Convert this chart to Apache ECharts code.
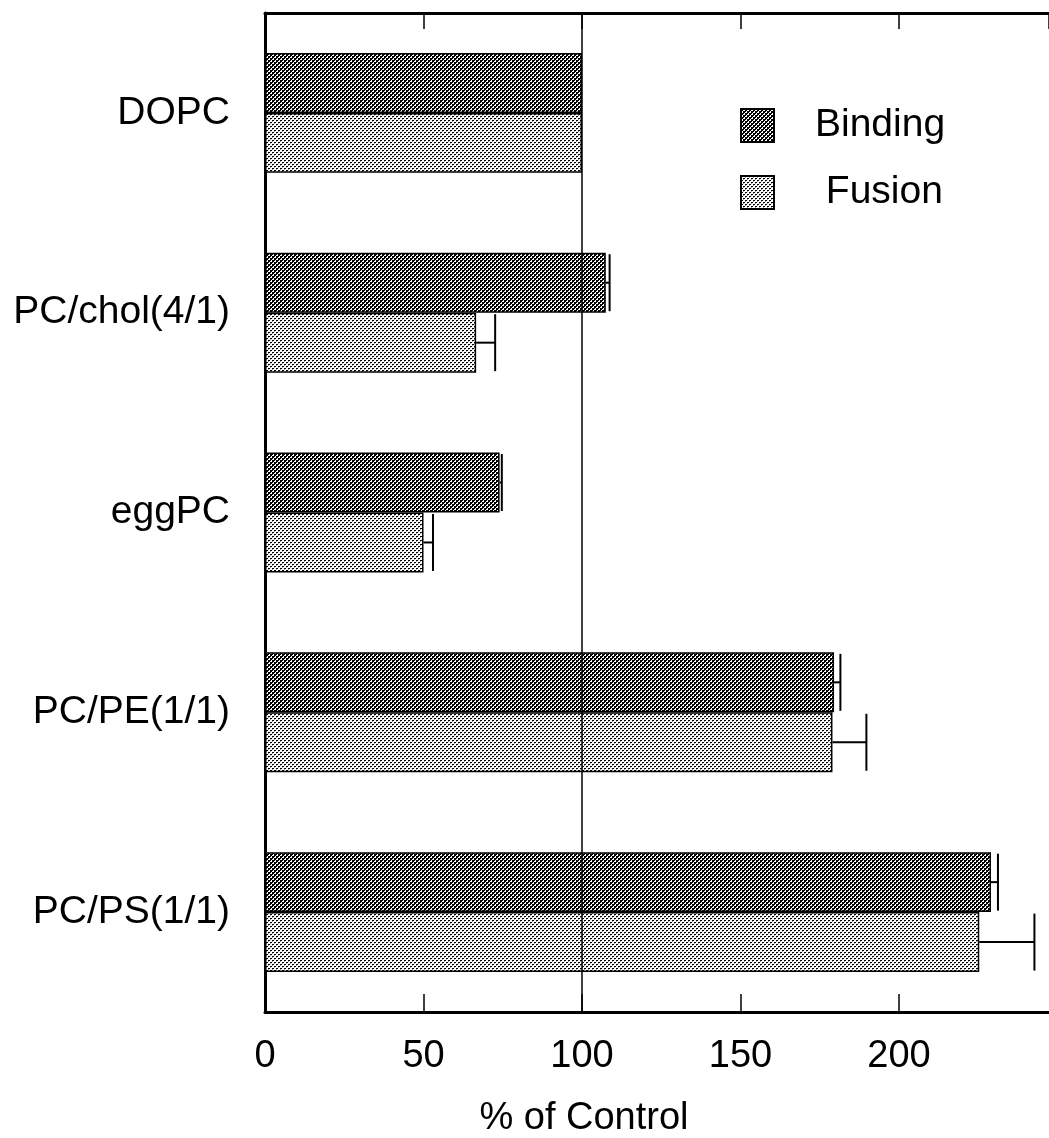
<!DOCTYPE html>
<html>
<head>
<meta charset="utf-8">
<script src="https://cdn.jsdelivr.net/npm/echarts@6/dist/echarts.min.js"></script>
<style>
html,body{margin:0;padding:0;background:#fff;}
#chart{width:1049px;height:1138px;}
</style>
</head>
<body>
<div id="chart"></div>
<script>
const categories = ['DOPC', 'PC/chol(4/1)', 'eggPC', 'PC/PE(1/1)', 'PC/PS(1/1)'];
const bindingValues = [100, 107.5, 74, 179.5, 229];
const bindingErrors = [0, 1.2, 0.7, 2, 2.2];
const fusionValues = [100, 66.6, 50, 179, 225.3];
const fusionErrors = [0, 6, 3, 10.7, 17.4];
const xTicks = [0, 50, 100, 150, 200];
const seriesNames = ['Binding', 'Fusion'];

function makePattern(kind) {
  const c = document.createElement('canvas');
  c.width = 4; c.height = 4;
  const ctx = c.getContext('2d');
  ctx.fillStyle = '#fff';
  ctx.fillRect(0, 0, 4, 4);
  ctx.fillStyle = '#000';
  if (kind === 'dark') {
    ctx.fillRect(0, 0, 2, 2);
    ctx.fillRect(2, 2, 2, 2);
    ctx.fillRect(2, 0, 1, 1);
    ctx.fillRect(0, 2, 1, 1);
  } else {
    ctx.fillRect(0, 0, 2, 1);
    ctx.fillRect(2, 2, 2, 1);
    ctx.fillStyle = '#999';
    ctx.fillRect(0, 1, 1, 1);
    ctx.fillRect(2, 3, 1, 1);
  }
  return c;
}

const darkPat = { image: makePattern('dark'), repeat: 'repeat' };
const lightPat = { image: makePattern('light'), repeat: 'repeat' };

const FONT = 'Liberation Sans, Arial, Helvetica, sans-serif';

function errData(values, errors, sign) {
  const out = [];
  for (let i = 0; i < values.length; i++) {
    if (errors[i] > 0) out.push([i, values[i], errors[i], sign]);
  }
  return out;
}

function renderErr(params, api) {
  const cat = api.value(0), v = api.value(1), e = api.value(2), s = api.value(3);
  const p0 = api.coord([v, cat]);
  const p1 = api.coord([v + e, cat]);
  const band = api.size([0, 1])[1];
  const barW = band * 0.3;
  const cy = p0[1] + s * barW / 2;
  const capH = barW * 0.95;
  return {
    type: 'group',
    children: [
      { type: 'line', shape: { x1: p0[0], y1: cy, x2: p1[0], y2: cy }, style: { stroke: '#000', lineWidth: 2 } },
      { type: 'line', shape: { x1: p1[0], y1: cy - capH / 2, x2: p1[0], y2: cy + capH / 2 }, style: { stroke: '#000', lineWidth: 2 } }
    ]
  };
}

const chart = echarts.init(document.getElementById('chart'), null, { renderer: 'canvas' });
chart.setOption({
  animation: false,
  backgroundColor: '#fff',
  textStyle: { fontFamily: FONT },
  grid: { left: 265, right: 0, top: 13, bottom: 126, containLabel: false, outerBoundsMode: 'none' },
  legend: {
    data: seriesNames,
    orient: 'vertical',
    left: 740,
    top: 106,
    padding: 0,
    itemWidth: 33,
    itemHeight: 33,
    itemGap: 28,
    icon: 'rect',
    formatter: function (n) { return n === 'Fusion' ? ' ' + n : n; },
    textStyle: { fontSize: 39, color: '#000', fontFamily: FONT, padding: [0, 0, 0, 36], lineHeight: 33 }
  },
  graphic: [
    {
      type: 'text', x: 584, y: 1100,
      style: { text: '% of Control', fill: '#000', font: '38px ' + FONT, textAlign: 'center', textVerticalAlign: 'top' }
    }
  ],
  xAxis: [
    {
      type: 'value', position: 'bottom', min: 0, max: 247.3, interval: 50,
      axisLine: { show: true, lineStyle: { color: '#000', width: 3 } },
      axisTick: { show: true, inside: true, length: 18, lineStyle: { color: '#000', width: 1.5 } },
      axisLabel: { fontSize: 38, color: '#000', margin: 26, fontFamily: FONT, showMaxLabel: false,
        formatter: function (v) { return xTicks.indexOf(v) >= 0 ? String(v) : ''; } },
      splitLine: { show: false }
    },
    {
      type: 'value', position: 'top', min: 0, max: 247.3, interval: 50,
      axisLine: { show: true, lineStyle: { color: '#000', width: 3 } },
      axisTick: { show: true, inside: true, length: 16, lineStyle: { color: '#000', width: 1.5 } },
      axisLabel: { show: false },
      splitLine: { show: false }
    }
  ],
  yAxis: {
    type: 'category', data: categories, inverse: true,
    axisLine: { show: true, lineStyle: { color: '#000', width: 3 } },
    axisTick: { show: false },
    axisLabel: { fontSize: 39, color: '#000', margin: 35, fontFamily: FONT }
  },
  series: [
    {
      name: 'Binding', type: 'bar', data: bindingValues,
      barCategoryGap: '40%', barGap: '0%',
      itemStyle: { color: darkPat, borderColor: '#000', borderWidth: 1.5 },
      markLine: {
        silent: true, symbol: 'none', label: { show: false },
        lineStyle: { color: '#000', width: 1.5, type: 'solid' },
        data: [{ xAxis: 100 }]
      }
    },
    {
      name: 'Fusion', type: 'bar', data: fusionValues,
      barCategoryGap: '40%', barGap: '0%',
      itemStyle: { color: lightPat, borderColor: '#000', borderWidth: 1.5 }
    },
    {
      name: 'BindingErr', type: 'custom', renderItem: renderErr,
      data: errData(bindingValues, bindingErrors, -1), z: 5
    },
    {
      name: 'FusionErr', type: 'custom', renderItem: renderErr,
      data: errData(fusionValues, fusionErrors, 1), z: 5
    }
  ]
});
</script>
</body>
</html>
